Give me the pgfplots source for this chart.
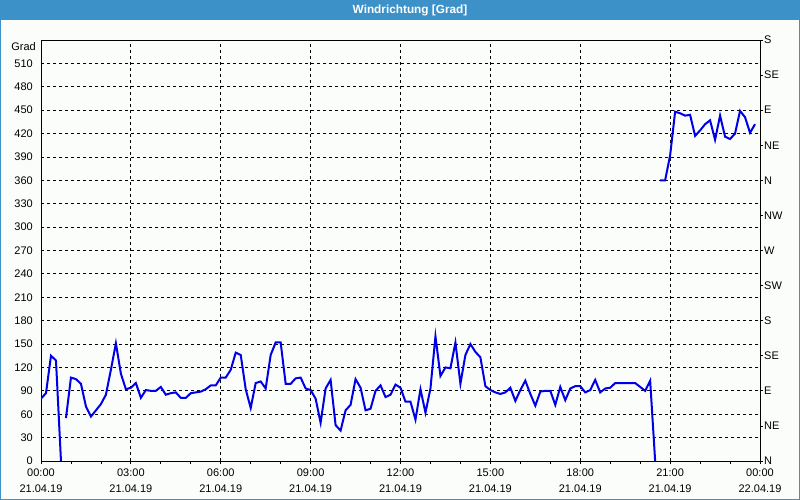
\documentclass[border=0pt]{standalone}
\usepackage{fontspec}
\setmainfont{Liberation Sans}
\usepackage{pgfplots}
\pgfplotsset{compat=1.18}
\definecolor{titleblue}{RGB}{60,145,200}
\definecolor{linecol}{RGB}{0,0,230}
\definecolor{bg}{RGB}{251,253,251}
\begin{document}
\begin{tikzpicture}
\useasboundingbox (0pt,0pt) rectangle (800pt,500pt);
\fill[bg] (0pt,0pt) rectangle (800pt,500pt);
\fill[titleblue] (0pt,480pt) rectangle (800pt,500pt);
\draw[titleblue, line width=1pt] (0.5pt,0.5pt) rectangle (799.5pt,499.5pt);
\node[text=white, font=\fontsize{11.8}{14}\selectfont\bfseries] at (410pt,490pt) {Windrichtung [Grad]};
\begin{axis}[at={(41pt,39pt)}, anchor=origin, scale only axis,
  width=719pt, height=421pt,
  xmin=0, xmax=1440, ymin=0, ymax=540,
  clip mode=individual,
  axis line style={black, line width=0.8pt},
  xtick={0,180,...,1440},
  xticklabels={{00:00\\21.04.19},{03:00\\21.04.19},{06:00\\21.04.19},{09:00\\21.04.19},{12:00\\21.04.19},{15:00\\21.04.19},{18:00\\21.04.19},{21:00\\21.04.19},{00:00\\22.04.19}},
  minor xtick={60,120,...,1380},
  ytick={0,30,...,510},
  grid=major,
  major grid style={black, dash pattern=on 3pt off 3pt, line width=0.8pt},
  tick align=outside,
  xtick pos=bottom,
  ytick pos=left,
  major tick length=3pt, minor tick length=3pt,
  xtick style={black, line width=0.8pt},
  ytick style={draw=none},
  ticklabel style={font=\fontsize{11}{16}\selectfont},
  yticklabel style={anchor=east, inner sep=0pt, xshift=-5pt},
  xticklabel style={align=center, inner sep=0pt, yshift=-5pt},
  /pgf/number format/assume math mode=true,
  unbounded coords=jump,
]
\addplot[linecol, line width=2pt] coordinates {
(0,80)(10,87)(20,135)(30,129)(40,0)(45,nan)
(50,55)(60,107)(70,105)(80,99)(90,70)(100,57)(110,65)(120,73)(130,85)(140,117)(150,151)(160,112)(170,92)(180,94)(190,100)(200,81)(210,91)(220,90)(230,90)(240,95)(250,85)(260,87)(270,88)(280,81)(290,81)(300,87)(310,88)(320,89)(330,92)(340,97)(350,97)(360,107)(370,107)(380,117)(390,139)(400,136)(410,92)(420,68)(430,100)(440,102)(450,93)(460,136)(470,152)(480,152)(490,99)(500,99)(510,106)(520,107)(530,93)(540,91)(550,80)(560,49)(570,93)(580,104)(590,46)(600,39)(610,65)(620,72)(630,105)(640,94)(650,65)(660,67)(670,90)(680,97)(690,82)(700,85)(710,98)(720,94)(730,76)(740,76)(750,53)(760,92)(770,62)(780,93)(790,160)(800,109)(810,120)(820,119)(830,152)(840,99)(850,136)(860,150)(870,140)(880,133)(890,96)(900,91)(910,88)(920,86)(930,88)(940,94)(950,77)(960,91)(970,103)(980,86)(990,71)(1000,89)(1010,90)(1020,90)(1030,72)(1040,95)(1050,78)(1060,93)(1070,96)(1080,96)(1090,88)(1100,91)(1110,104)(1120,88)(1130,93)(1140,94)(1150,100)(1160,100)(1170,100)(1180,100)(1190,100)(1200,95)(1210,90)(1220,103)(1230,0)(1235,nan)
(1240,360)(1250,360)(1260,392)(1270,448)(1280,446)(1290,443)(1300,444)(1310,417)(1320,424)(1330,432)(1340,437)(1350,412)(1360,443)(1370,416)(1380,413)(1390,420)(1400,449)(1410,441)(1420,421)(1430,432)
};
\node[anchor=east, inner sep=0pt, font=\fontsize{11}{13}\selectfont] at (axis cs:0,532) [xshift=-5pt] {Grad};
\end{axis}
\begin{axis}[at={(41pt,39pt)}, anchor=origin, scale only axis,
  width=719pt, height=421pt,
  xmin=0, xmax=1440, ymin=0, ymax=540,
  hide x axis,
  axis y line*=right,
  y axis line style={-, black, line width=0.8pt},
  ytick={0,45,...,540},
  yticklabels={N,NE,E,SE,S,SW,W,NW,N,NE,E,SE,S},
  tick align=outside,
  major tick length=3pt,
  ytick style={black, line width=0.8pt},
  yticklabel style={anchor=west, inner sep=0pt, xshift=1pt, font=\fontsize{11}{13}\selectfont},
]
\end{axis}
\end{tikzpicture}
\end{document}
